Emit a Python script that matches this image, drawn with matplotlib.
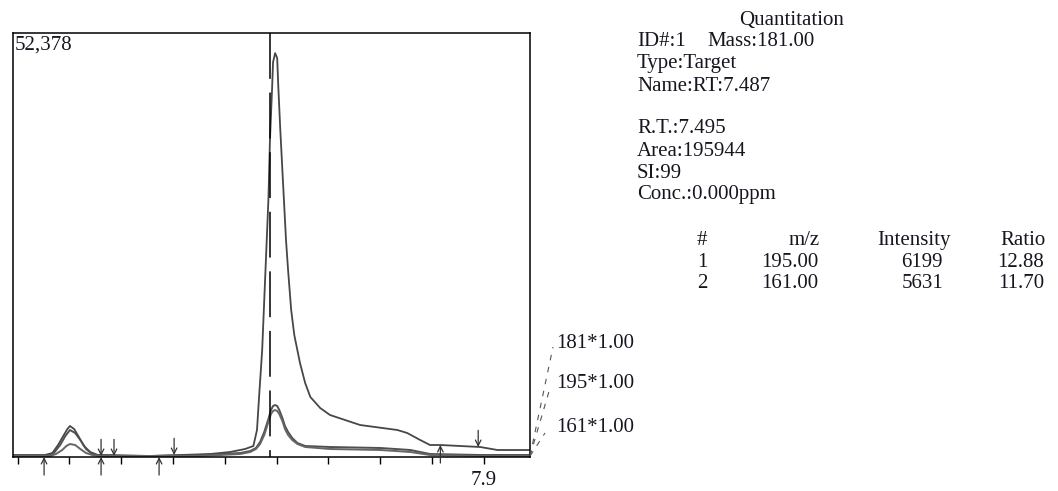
"""
Cromatograma SIM de cuantitación (masas 181 / 195 / 161) con ficha de resultados.
Salida: out.png
"""

import matplotlib.pyplot as plt

# ── Datos ──────────────────────────────────────────────────────────────────────

Y_MAX = 52378
RT_EXPECTED = 7.487

t181 = [6.991, 7.053, 7.067, 7.078, 7.088, 7.096, 7.101, 7.109, 7.117, 7.128,
        7.140, 7.155, 7.179, 7.256, 7.314, 7.372, 7.410, 7.439, 7.455, 7.462,
        7.466, 7.472, 7.476, 7.480, 7.484, 7.487, 7.491, 7.493, 7.497, 7.501,
        7.503, 7.507, 7.511, 7.514, 7.518, 7.522, 7.528, 7.534, 7.545, 7.555,
        7.565, 7.584, 7.603, 7.661, 7.733, 7.752, 7.777, 7.796, 7.816, 7.893,
        7.926, 7.989]
i181 = [247, 247, 494, 1482, 2594, 3458, 3829, 3458, 2594, 1359,
        618, 247, 247, 124, 247, 371, 618, 988, 1359, 3335,
        7410, 13215, 19390, 25565, 31740, 39150, 45325, 48783, 49894, 49277,
        45942, 40385, 35445, 31740, 26800, 23095, 18155, 15067, 11609, 9139,
        7410, 6052, 5187, 3952, 3335, 2964, 2100, 1482, 1482, 1235,
        865, 865]

t195 = [6.991, 7.059, 7.070, 7.082, 7.092, 7.101, 7.111, 7.121, 7.132, 7.144,
        7.159, 7.256, 7.352, 7.430, 7.449, 7.460, 7.468, 7.476, 7.484, 7.489,
        7.493, 7.497, 7.501, 7.505, 7.511, 7.516, 7.522, 7.530, 7.540, 7.555,
        7.603, 7.700, 7.758, 7.796, 7.893, 7.989]
i195 = [124, 124, 494, 1482, 2594, 3335, 2964, 2100, 988, 371,
        124, 124, 247, 494, 741, 1112, 1853, 3088, 4693, 5805,
        6299, 6422, 6299, 5805, 4817, 3829, 3088, 2347, 1729, 1359,
        1235, 1112, 865, 371, 247, 247]

t161 = [6.991, 7.063, 7.074, 7.086, 7.094, 7.101, 7.111, 7.121, 7.132, 7.144,
        7.159, 7.256, 7.352, 7.430, 7.449, 7.460, 7.468, 7.476, 7.484, 7.489,
        7.493, 7.497, 7.501, 7.505, 7.511, 7.516, 7.522, 7.530, 7.540, 7.555,
        7.603, 7.700, 7.758, 7.796, 7.893, 7.989]
i161 = [124, 124, 371, 865, 1359, 1606, 1482, 988, 494, 247,
        124, 124, 124, 371, 618, 988, 1606, 2717, 4323, 5311,
        5681, 5805, 5681, 5311, 4446, 3458, 2717, 2100, 1606, 1235,
        988, 865, 618, 247, 124, 124]

# marcas de integración (inicio/fin de pico)
arrow_down_t = [7.161, 7.186, 7.302, 7.889]
arrow_down_i = [124, 124, 247, 1235]
arrow_up_t = [7.051, 7.161, 7.273, 7.816]
arrow_up_i = [0, 0, 0, 1482]

trace_labels = ["181*1.00", "195*1.00", "161*1.00"]

header_lines = ["ID#:1", "Type:Target", "Name:RT:7.487"]
result_lines = ["R.T.:7.495", "Area:195944", "SI:99", "Conc.:0.000ppm"]
table_cols = ["#", "m/z", "Intensity", "Ratio"]
table_rows = [["1", "195.00", "6199", "12.88"],
              ["2", "161.00", "5631", "11.70"]]

# ── Figura ─────────────────────────────────────────────────────────────────────

W, H = 1058, 491
FONT = "Liberation Serif"
FS = 15
TXT = "#161620"
LINE = "#474747"


def fx(px):
    return px / W


def fy(py):
    return 1 - py / H


plt.rcParams["font.family"] = [FONT, "DejaVu Serif"]

fig = plt.figure(figsize=(W / 100, H / 100), dpi=100)
ax = fig.add_axes([fx(13), fy(457), (530 - 13) / W, (457 - 33) / H])

ax.plot(t181, i181, color=LINE, lw=1.3)
ax.plot(t195, i195, color="#505050", lw=1.4)
ax.plot(t161, i161, color="#666666", lw=1.4)

# línea de RT esperado
ax.plot([RT_EXPECTED, RT_EXPECTED], [Y_MAX, 0], color="black", lw=1.1,
        linestyle=(0, (30, 9)), clip_on=False)

arrow_style = dict(arrowstyle="->,head_length=0.4,head_width=0.2",
                   color="#333333", lw=0.9, shrinkA=0, shrinkB=0)
for t, i in zip(arrow_down_t, arrow_down_i):
    ax.annotate("", xy=(t, i), xytext=(0, 12), textcoords="offset points",
                arrowprops=arrow_style, annotation_clip=False)
for t, i in zip(arrow_up_t, arrow_up_i):
    ax.annotate("", xy=(t, i), xytext=(0, -13), textcoords="offset points",
                arrowprops=arrow_style, annotation_clip=False)

ax.set_xlim(6.991, 7.989)
ax.set_ylim(0, Y_MAX)
ax.set_yticks([])
ticks = [7.0 + 0.1 * k for k in range(10)]
ax.set_xticks(ticks)
ax.set_xticklabels([""] * 9 + ["7.9"])
ax.tick_params(axis="x", direction="out", length=5, width=1, pad=5,
               labelsize=FS, labelcolor=TXT)
for sp in ax.spines.values():
    sp.set_linewidth(1.1)

fig.text(fx(15), fy(50), f"{Y_MAX:,}", fontsize=FS, color=TXT, va="baseline")

# etiquetas de trazas con líneas guía
label_y = [343, 383, 428]
leader_end = [(553, 347), (550, 388), (545, 433)]
for lab, ly, (ex, ey) in zip(trace_labels, label_y, leader_end):
    fig.add_artist(plt.Line2D([fx(530), fx(ex)], [fy(456), fy(ey)],
                              transform=fig.transFigure, color="#555555",
                              lw=0.8, linestyle=(0, (5, 6))))
    fig.text(fx(556), fy(ly), lab, fontsize=FS, color=TXT, va="center")

# ficha de cuantitación
fig.text(fx(792), fy(25), "Quantitation", fontsize=FS, color=TXT,
         ha="center", va="baseline")
fig.text(fx(707), fy(46), "Mass:181.00", fontsize=FS, color=TXT, va="baseline")
for txt, base in zip(header_lines, [46, 68, 91]):
    fig.text(fx(637), fy(base), txt, fontsize=FS, color=TXT, va="baseline")
for txt, base in zip(result_lines, [133, 156, 178, 199]):
    fig.text(fx(637), fy(base), txt, fontsize=FS, color=TXT, va="baseline")

col_x_header = [702, 820, 951, 1046]
col_x_rows = [702, 818, 943, 1044]
col_ha = ["center", "right", "right", "right"]
for txt, x, ha in zip(table_cols, col_x_header, col_ha):
    fig.text(fx(x), fy(245), txt, fontsize=FS, color=TXT, ha=ha, va="baseline")
for row, base in zip(table_rows, [267, 288]):
    for txt, x, ha in zip(row, col_x_rows, col_ha):
        fig.text(fx(x), fy(base), txt, fontsize=FS, color=TXT, ha=ha, va="baseline")

fig.savefig("out.png", dpi=100)
